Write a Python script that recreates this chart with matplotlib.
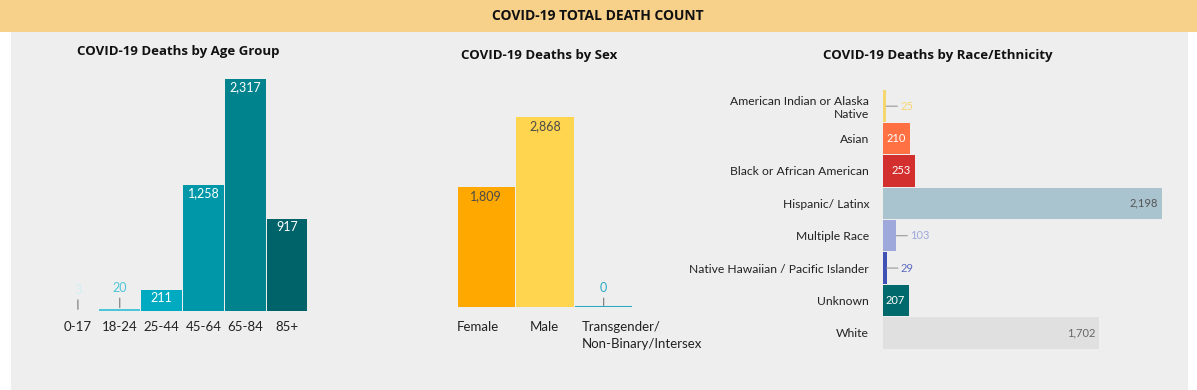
import matplotlib
matplotlib.use('Agg')
import matplotlib.pyplot as plt
from matplotlib.patches import Rectangle

W, H = 1197, 390

# ---- data ----
age_groups = ['0-17', '18-24', '25-44', '45-64', '65-84', '85+']
age_deaths = [3, 20, 211, 1258, 2317, 917]
age_colors = ['#c9eef3', '#4cc6d8', '#00abc2', '#0098a8', '#00838d', '#006369']

sex_groups = ['Female', 'Male', 'Transgender/\nNon-Binary/Intersex']
sex_deaths = [1809, 2868, 0]
sex_colors = ['#ffa800', '#ffd54f', '#2aa9c4']
sex_label_shift = [0, 14, 7]   # px from bar left edge

race_groups = ['American Indian or Alaska\nNative', 'Asian', 'Black or African American',
               'Hispanic/ Latinx', 'Multiple Race', 'Native Hawaiian / Pacific Islander',
               'Unknown', 'White']
race_deaths = [25, 210, 253, 2198, 103, 29, 207, 1702]
race_colors = ['#f6d66f', '#ff7043', '#d32f2f', '#a9c3cf', '#9fa8da', '#3f51b5',
               '#00696b', '#e0e0e0']
race_label_colors = ['#f6d66f', 'white', 'white', '#555555', '#9fa8da', '#5c6bc0',
                     'white', '#666666']

TITLE_FONT = 'Open Sans'
LABEL_FONT = 'Lato'


def px_axes(fig, left, top, right, bottom):
    # pixel box (image coords) -> figure axes
    ax = fig.add_axes([left / W, 1 - bottom / H, (right - left) / W, (bottom - top) / H])
    ax.set_facecolor('none')
    for s in ax.spines.values():
        s.set_visible(False)
    return ax


fig = plt.figure(figsize=(W / 100, H / 100), dpi=100)
fig.patch.set_facecolor('white')

# background panel and header band
fig.patches.append(Rectangle((11 / W, 0), 1177 / W, 1 - 32 / H, transform=fig.transFigure,
                             facecolor='#eeeeee', edgecolor='none', zorder=-10))
fig.patches.append(Rectangle((0, 1 - 32 / H), 1, 32 / H, transform=fig.transFigure,
                             facecolor='#f7d08a', edgecolor='none', zorder=-10))
fig.text(598 / W, 1 - 16 / H, 'COVID-19 TOTAL DEATH COUNT', ha='center', va='center',
         fontsize=10, fontweight='bold', family=TITLE_FONT, color='#111111')

fig.text(178 / W, 1 - 52 / H, 'COVID-19 Deaths by Age Group', ha='center', va='center',
         fontsize=9.5, fontweight='bold', family=TITLE_FONT, color='#111111')
fig.text(539 / W, 1 - 55 / H, 'COVID-19 Deaths by Sex', ha='center', va='center',
         fontsize=9.5, fontweight='bold', family=TITLE_FONT, color='#111111')
fig.text(938 / W, 1 - 55 / H, 'COVID-19 Deaths by Race/Ethnicity', ha='center', va='center',
         fontsize=9.5, fontweight='bold', family=TITLE_FONT, color='#111111')

leader = dict(arrowstyle='-', color='#777777', lw=0.8, shrinkA=1, shrinkB=1)

# ---- age group ----
ax1 = px_axes(fig, 57, 51, 308, 311)
x = range(len(age_groups))
ax1.bar(x, age_deaths, width=0.975, color=age_colors, linewidth=0)
ax1.set_xlim(-0.5, len(age_groups) - 0.5)
ax1.set_ylim(0, 2600)
ax1.set_yticks([])
ax1.set_xticks(list(x))
ax1.set_xticklabels(age_groups, fontsize=9.5, family=LABEL_FONT, color='#222222')
ax1.tick_params(axis='x', length=0, pad=7)
for i, v in enumerate(age_deaths):
    if v < 150:
        ax1.annotate(f'{v:,}', xy=(i, v), xytext=(0, 21), textcoords='offset pixels',
                     ha='center', va='center', fontsize=9, family=LABEL_FONT,
                     color=age_colors[i] if i else '#d3eef2', arrowprops=leader)
    else:
        ax1.annotate(f'{v:,}', xy=(i, v), xytext=(0, -8), textcoords='offset pixels',
                     ha='center', va='center', fontsize=9, family=LABEL_FONT, color='white')

# ---- sex ----
ax2 = px_axes(fig, 457, 108, 633, 307)
x = range(len(sex_groups))
ax2.bar(x, sex_deaths, width=0.98, color=sex_colors, linewidth=0)
for i, v in enumerate(sex_deaths):
    if v == 0:
        ax2.hlines(0, i - 0.49, i + 0.49, color=sex_colors[i], lw=1.5)
ax2.set_xlim(-0.5, len(sex_groups) - 0.5)
ax2.set_ylim(0, 3000)
ax2.set_yticks([])
ax2.set_xticks([])
# category labels sit left-aligned under each bar
for i, (lab, dx) in enumerate(zip(sex_groups, sex_label_shift)):
    ax2.annotate(lab, xy=(i - 0.5, 0), xytext=(dx, -14), textcoords='offset pixels',
                 ha='left', va='top', fontsize=9.5, family=LABEL_FONT, color='#222222',
                 linespacing=1.5, annotation_clip=False)
for i, v in enumerate(sex_deaths):
    if v < 150:
        ax2.annotate(f'{v:,}', xy=(i, v), xytext=(0, 19), textcoords='offset pixels',
                     ha='center', va='center', fontsize=9, family=LABEL_FONT,
                     color=sex_colors[i], arrowprops=leader)
    else:
        ax2.annotate(f'{v:,}', xy=(i, v), xytext=(0, -9), textcoords='offset pixels',
                     ha='center', va='center', fontsize=9, family=LABEL_FONT, color='#4a4a4a')

# ---- race ----
ax3 = px_axes(fig, 883, 90, 1188, 349)
y = range(len(race_groups))
ax3.barh(y, race_deaths, height=0.97, color=race_colors, linewidth=0)
ax3.set_ylim(len(race_groups) - 0.5, -0.5)
ax3.set_xlim(0, 2400)
ax3.set_xticks([])
ax3.set_yticks(list(y))
ax3.set_yticklabels(race_groups, fontsize=8.7, family=LABEL_FONT, color='#222222',
                    multialignment='right')
ax3.tick_params(axis='y', length=0, pad=10)
for i, v in enumerate(race_deaths):
    if v < 150:
        ax3.annotate(f'{v:,}', xy=(v, i), xytext=(14, 0), textcoords='offset pixels',
                     ha='left', va='center', fontsize=8, family=LABEL_FONT,
                     color=race_label_colors[i],
                     arrowprops=dict(leader, color='#999999', shrinkA=0, shrinkB=0))
    else:
        ax3.annotate(f'{v:,}', xy=(v, i), xytext=(-4, 0), textcoords='offset pixels',
                     ha='right', va='center', fontsize=8, family=LABEL_FONT,
                     color=race_label_colors[i])

fig.savefig('out.png', dpi=100, facecolor=fig.get_facecolor())
